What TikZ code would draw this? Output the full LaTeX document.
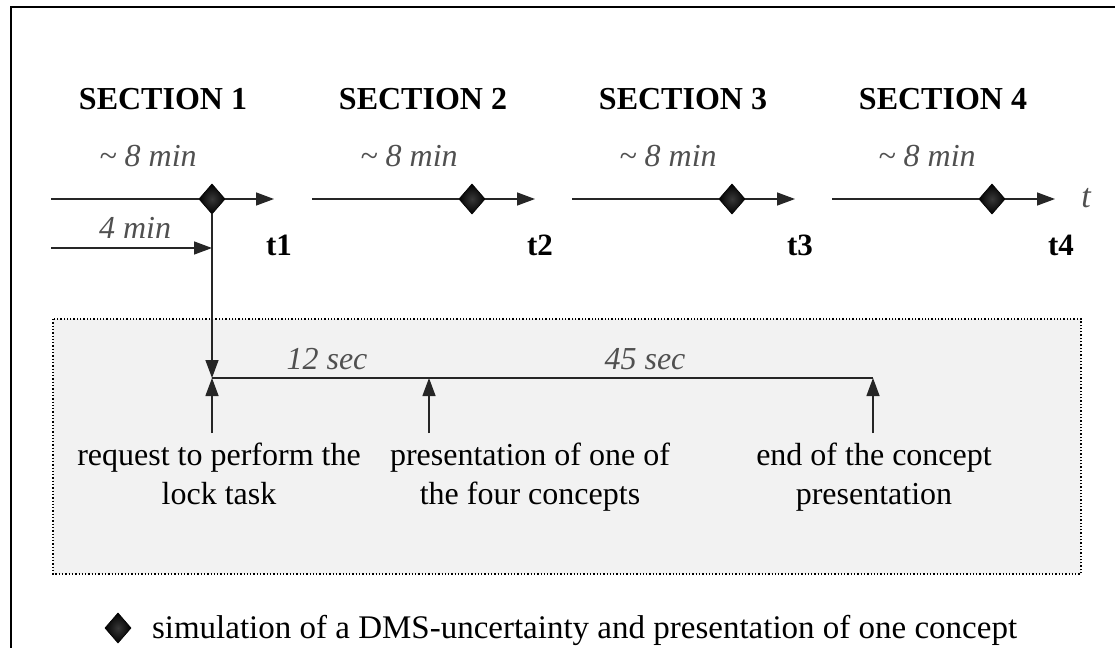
\documentclass[tikz,border=0pt]{standalone}
\usepackage{fontspec}
\setmainfont{Liberation Serif}
\usetikzlibrary{arrows.meta,shapes.geometric}
\definecolor{durgray}{HTML}{505050}
\definecolor{panelfill}{HTML}{F2F2F2}
\begin{document}
\begin{tikzpicture}[x=1pt,y=-1pt,
  every node/.style={inner sep=0pt,outer sep=0pt},
  heading/.style={anchor=base,font=\fontsize{32}{38}\selectfont\bfseries},
  tlabel/.style={anchor=base,font=\fontsize{31}{38}\selectfont\bfseries},
  dur/.style={anchor=base,text=durgray,font=\fontsize{32}{38}\selectfont\itshape},
  note/.style={anchor=base,font=\fontsize{32}{39}\selectfont},
  marker/.style={diamond,minimum width=26pt,minimum height=30pt,draw=black,line width=0.6pt,
    inner color=black!78,outer color=black},
  line/.style={line width=1.4pt,draw=black!85},
  tip/.style={line,-{Triangle[length=18pt,width=13pt]}}
]
\useasboundingbox (0,0) rectangle (1115,648);

% frame
\draw[line width=2pt] (1115,7) -- (11,7) -- (11,648);

% section headings
\node[heading] (s1) at (163,109) {SECTION 1};
\node[heading] (s2) at (423,109) {SECTION 2};
\node[heading] (s3) at (683,109) {SECTION 3};
\node[heading] (s4) at (943,109) {SECTION 4};

% durations above the time lines
\node[dur] (d1) at (148,166) {\textasciitilde{} 8 min};
\node[dur] (d2) at (409,166) {\textasciitilde{} 8 min};
\node[dur] (d3) at (668,166) {\textasciitilde{} 8 min};
\node[dur] (d4) at (927,166) {\textasciitilde{} 8 min};

% time lines with their markers
\foreach \i/\xs/\xm/\xe in {1/51/212/274, 2/312/472/535, 3/572/732/795, 4/832/992/1055}{
  \coordinate (a\i) at (\xs,199);
  \coordinate (e\i) at (\xe,199);
  \node[marker] (m\i) at (\xm,199) {};
  \draw[line] (a\i) -- (m\i.west);
  \draw[tip] (m\i.east) -- (e\i);
}
\node[anchor=base,text=durgray,font=\fontsize{34}{38}\selectfont\itshape] (tt) at (1086,207) {t};

% time stamps
\node[tlabel] (t1) at (279,255) {t1};
\node[tlabel] (t2) at (540,255) {t2};
\node[tlabel] (t3) at (800,255) {t3};
\node[tlabel] (t4) at (1061,255) {t4};

% first four minutes
\coordinate (f0) at (51,248);
\coordinate (f1) at (212,248);
\draw[tip] (f0) -- (f1);
\node[dur] (fm) at (135,238) {4 min};

% detail panel
\draw[dotted,line width=1.3pt,fill=panelfill] (53,319) rectangle (1081,574);

\coordinate (p1) at (212,378);
\coordinate (p2) at (429,378);
\coordinate (p3) at (873,378);
\coordinate (q1) at (212,433);
\coordinate (q2) at (429,433);
\coordinate (q3) at (873,433);

\draw[tip] (m1.south) -- (p1);
\draw[line] (p1) -- (p3);
\draw[tip] (q1) -- (p1);
\draw[tip] (q2) -- (p2);
\draw[tip] (q3) -- (p3);

\node[dur] (sec12) at (327,369) {12 sec};
\node[dur] (sec45) at (645,369) {45 sec};

% event descriptions, two lines each
\node[note] (n1a) at (219,465) {request to perform the};
\node[note] (n1b) at (219,504) {lock task};
\node[note] (n2a) at (530,465) {presentation of one of};
\node[note] (n2b) at (530,504) {the four concepts};
\node[note] (n3a) at (874,465) {end of the concept};
\node[note] (n3b) at (874,504) {presentation};

% legend
\node[marker] (lm) at (118,628) {};
\node[anchor=base west,font=\fontsize{33}{38}\selectfont] (lt) at (152,638)
  {simulation of a DMS-uncertainty and presentation of one concept};
\end{tikzpicture}
\end{document}
